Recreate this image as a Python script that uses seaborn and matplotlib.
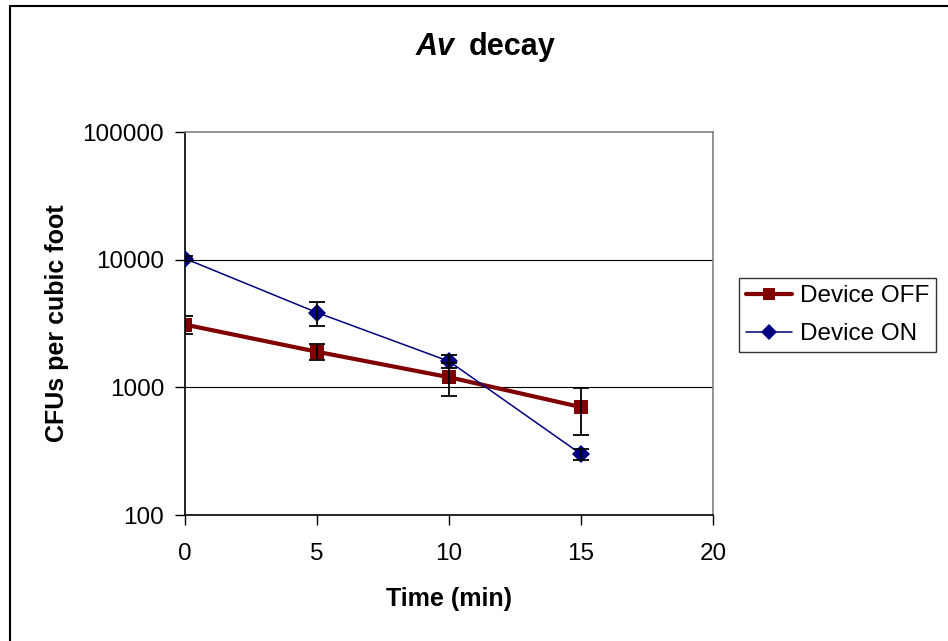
import matplotlib
matplotlib.use("Agg")
import matplotlib.pyplot as plt
import numpy as np
import pandas as pd
import seaborn as sns
from matplotlib.lines import Line2D
from matplotlib.ticker import FixedLocator, FuncFormatter, NullLocator

# Data
time_min = [0, 5, 10, 15]
off_cfu = [3100, 1900, 1200, 700]
off_err = [500, 270, 350, 280]
on_cfu = [10200, 3850, 1600, 300]
on_err = [400, 800, 180, 30]
series_names = ["Device OFF", "Device ON"]
y_ticks = [100, 1000, 10000, 100000]
x_ticks = [0, 5, 10, 15, 20]

sns.set_style("white")
plt.rcParams['font.family'] = ['Liberation Sans', 'DejaVu Sans']
plt.rcParams['text.color'] = 'black'
plt.rcParams['axes.labelcolor'] = 'black'

df = pd.DataFrame({
    "time": time_min * 2,
    "cfu": off_cfu + on_cfu,
    "series": [series_names[0]] * 4 + [series_names[1]] * 4,
})

fig = plt.figure(figsize=(9.48, 6.41), dpi=100)
ax = fig.add_axes([185 / 948, 1 - 515 / 641, (713 - 185) / 948, (515 - 132) / 641])

colors = {"Device OFF": "#800000", "Device ON": "#000080"}
widths = {"Device OFF": 3.0, "Device ON": 1.1}
marks = {"Device OFF": "s", "Device ON": "D"}
msize = {"Device OFF": 10, "Device ON": 9}

# gridlines first
for v in [1000, 10000]:
    ax.axhline(v, color="black", linewidth=0.8, zorder=1)

# error bars
ax.errorbar(time_min, off_cfu, yerr=off_err, fmt="none", ecolor="black",
            elinewidth=1.3, capsize=6, capthick=1.3, zorder=4)
ax.errorbar(time_min, on_cfu, yerr=on_err, fmt="none", ecolor="black",
            elinewidth=1.3, capsize=6, capthick=1.3, zorder=4)

for name in series_names:
    sub = df[df["series"] == name]
    sns.lineplot(data=sub, x="time", y="cfu", ax=ax, color=colors[name],
                 linewidth=widths[name], marker=marks[name], markersize=msize[name],
                 markeredgewidth=0, legend=False, zorder=3)

ax.set_yscale("log")
ax.set_ylim(100, 100000)
ax.set_xlim(0, 20)
ax.yaxis.set_major_locator(FixedLocator(y_ticks))
ax.yaxis.set_minor_locator(NullLocator())
ax.yaxis.set_major_formatter(FuncFormatter(lambda v, p: f"{int(round(v))}"))
ax.set_xticks(x_ticks)

ax.tick_params(axis="both", direction="out", length=7, width=1, color="black",
               labelsize=17.5, labelcolor="black")
ax.tick_params(axis="y", pad=8, left=True)
ax.tick_params(axis="x", pad=13, bottom=True)

for side in ["left", "bottom"]:
    ax.spines[side].set_color("black")
    ax.spines[side].set_linewidth(1.2)
for side in ["top", "right"]:
    ax.spines[side].set_visible(True)
    ax.spines[side].set_color("#808080")
    ax.spines[side].set_linewidth(1.2)

ax.set_xlabel("Time (min)", fontsize=18, fontweight="bold", labelpad=16)
ax.set_ylabel("CFUs per cubic foot", fontsize=18, fontweight="bold", labelpad=10)

# title with italic "Av"
fig.text(455 / 948, 1 - 55 / 641, "Av", fontsize=22, fontweight="bold",
         fontstyle="italic", ha="right", va="baseline")
fig.text(469 / 948, 1 - 55 / 641, "decay", fontsize=22, fontweight="bold",
         ha="left", va="baseline")

# legend
handles = [Line2D([0], [0], color=colors[n], linewidth=widths[n], marker=marks[n],
                  markersize=msize[n] - 1, markeredgewidth=0) for n in series_names]
leg = fig.legend(handles, series_names, loc="upper left",
                 bbox_to_anchor=(739 / 948, 1 - 278 / 641), fontsize=17.5,
                 frameon=True, fancybox=False, edgecolor="black", handlelength=1.9,
                 borderpad=0.3, labelspacing=0.65, handletextpad=0.3, borderaxespad=0)
leg.get_frame().set_linewidth(1.0)

# outer chart border (left and top edges visible)
fig.add_artist(Line2D([9.5 / 948, 9.5 / 948], [0, 1 - 6 / 641], color="black",
                      linewidth=1.5, transform=fig.transFigure))
fig.add_artist(Line2D([9.5 / 948, 1], [1 - 6 / 641, 1 - 6 / 641], color="black",
                      linewidth=1.5, transform=fig.transFigure))

fig.savefig("out.png", dpi=100)
